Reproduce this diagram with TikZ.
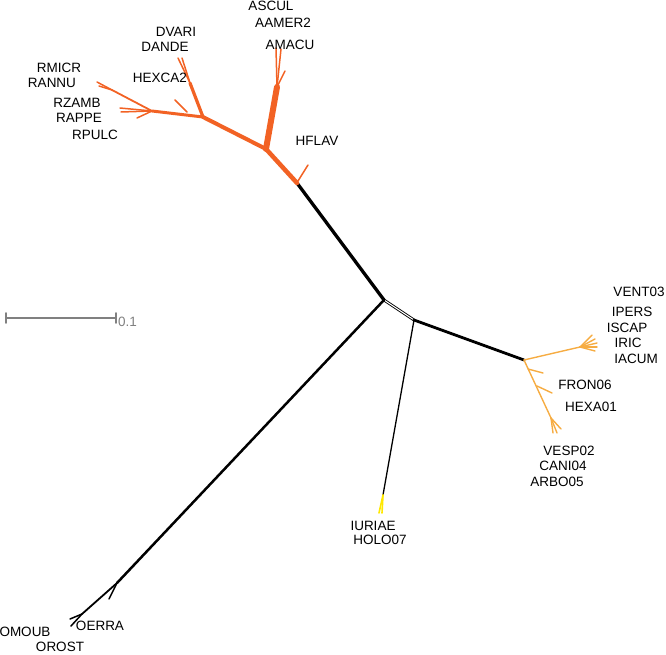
\documentclass[tikz,border=0pt]{standalone}
\usepackage{fontspec}
\setmainfont{Liberation Sans}
\definecolor{tred}{RGB}{242,98,36}
\definecolor{tora}{RGB}{246,172,66}
\definecolor{tyel}{RGB}{255,232,0}
\definecolor{tgray}{RGB}{128,128,128}
\begin{document}
\begin{tikzpicture}[x=1pt,y=-1pt,line cap=round,line join=round,
  lab/.style={font=\fontsize{13.5}{14}\selectfont,inner sep=0pt},
  blk/.style={draw=black},
  red/.style={draw=tred},
  ora/.style={draw=tora,line width=1.4pt},
  yel/.style={draw=tyel,line width=1.6pt},
  tip/.style={line width=1.5pt}]
\useasboundingbox (0,0) rectangle (666,655);
% junctions
\coordinate (C1) at (384,300);
\coordinate (C2) at (414,320);
\coordinate (O0) at (297,183);
\coordinate (O1) at (266,149);
\coordinate (NA) at (277,87);
\coordinate (O2) at (203,117);
\coordinate (ND) at (190,83);
\coordinate (HX) at (187,112);
\coordinate (RA) at (152,111);
\coordinate (RM) at (112,90);
\coordinate (OE) at (117,583);
\coordinate (OF) at (82,614);
\coordinate (Y0) at (524,360);
\coordinate (F) at (580,347);
\coordinate (P1) at (528,369);
\coordinate (P2) at (537,386);
\coordinate (P3) at (551,418);
\coordinate (YT) at (383,495);
\coordinate (HF) at (298,181);
% tips
\coordinate (tASCUL) at (276,48);
\coordinate (tAAMER) at (281,49);
\coordinate (tAMACU) at (285,71);
\coordinate (tDVARI) at (178,58);
\coordinate (tDANDE) at (182,58);
\coordinate (tHEXCA) at (175,100);
\coordinate (tRMICR) at (97,82);
\coordinate (tRANNU) at (99,86);
\coordinate (tRZAMB) at (120,108);
\coordinate (tRAPPE) at (121,112);
\coordinate (tRPULC) at (137,118);
\coordinate (tHFLAV) at (308,165);
\coordinate (tVENT) at (592,335);
\coordinate (tIPERS) at (595,339);
\coordinate (tISCAP) at (597,343);
\coordinate (tIRIC) at (597,347);
\coordinate (tIACUM) at (595,351);
\coordinate (tFRON) at (543,373);
\coordinate (tHEXA) at (552,393);
\coordinate (tVESP) at (553,433);
\coordinate (tCANI) at (557,433);
\coordinate (tARBO) at (561,429);
\coordinate (tIURI) at (379,513);
\coordinate (tHOLO) at (382,513);
\coordinate (tOERRA) at (109,599);
\coordinate (tOMOUB) at (70,619);
\coordinate (tOROST) at (71,626);
% black backbone
\draw[blk,line width=3.3pt] (C1) -- (O0);
\draw[double=white,double distance=1.1pt,line width=0.9pt] (C1) -- (C2);
\draw[blk,line width=2.8pt] (C2) -- (Y0);
\draw[blk,line width=1.3pt] (C2) -- (YT);
\draw[blk,line width=2.5pt] (C1) -- (OE);
\draw[blk,line width=1.8pt] (OE) -- (OF);
\draw[blk,tip] (OE) -- (tOERRA);
\draw[blk,tip] (OF) -- (tOMOUB);
\draw[blk,tip] (OF) -- (tOROST);
% red clade
\draw[red,line width=4.5pt] (O0) -- (O1);
\draw[red,line width=6pt] (O1) -- (NA);
\draw[red,tip] (NA) -- (tASCUL);
\draw[red,tip] (NA) -- (tAAMER);
\draw[red,tip] (NA) -- (tAMACU);
\draw[red,tip] (HF) -- (tHFLAV);
\draw[red,line width=4pt] (O1) -- (O2);
\draw[red,line width=3.2pt] (O2) -- (ND);
\draw[red,tip] (ND) -- (tDVARI);
\draw[red,tip] (ND) -- (tDANDE);
\draw[red,line width=3pt] (O2) -- (RA);
\draw[red,tip] (HX) -- (tHEXCA);
\draw[red,line width=1.8pt] (RA) -- (RM);
\draw[red,tip] (RM) -- (tRMICR);
\draw[red,tip] (RM) -- (tRANNU);
\draw[red,tip] (RA) -- (tRZAMB);
\draw[red,tip] (RA) -- (tRAPPE);
\draw[red,tip] (RA) -- (tRPULC);
% orange clade
\draw[ora] (Y0) -- (F);
\foreach \t in {tVENT,tIPERS,tISCAP,tIRIC,tIACUM} \draw[ora] (F) -- (\t);
\draw[ora] (Y0) -- (P3);
\draw[ora] (P1) -- (tFRON);
\draw[ora] (P2) -- (tHEXA);
\foreach \t in {tVESP,tCANI,tARBO} \draw[ora] (P3) -- (\t);
% yellow
\draw[yel] (YT) -- (tIURI);
\draw[yel] (YT) -- (tHOLO);
% labels
\node[lab] (ASCUL) at (271,6) {ASCUL};
\node[lab] (AAMER2) at (283,23) {AAMER2};
\node[lab] (AMACU) at (290,45) {AMACU};
\node[lab] (DVARI) at (176,32) {DVARI};
\node[lab] (DANDE) at (165,47) {DANDE};
\node[lab] (HEXCA2) at (160,78) {HEXCA2};
\node[lab] (RMICR) at (59,68) {RMICR};
\node[lab] (RANNU) at (52,83) {RANNU};
\node[lab] (RZAMB) at (77,103) {RZAMB};
\node[lab] (RAPPE) at (79,118) {RAPPE};
\node[lab] (RPULC) at (95,135) {RPULC};
\node[lab] (HFLAV) at (317,141) {HFLAV};
\node[lab] (VENT03) at (639,292) {VENT03};
\node[lab] (IPERS) at (632,312) {IPERS};
\node[lab] (ISCAP) at (627,328) {ISCAP};
\node[lab] (IRIC) at (628,343) {IRIC};
\node[lab] (IACUM) at (636,359) {IACUM};
\node[lab] (FRON06) at (585,385) {FRON06};
\node[lab] (HEXA01) at (591,407) {HEXA01};
\node[lab] (VESP02) at (569,451) {VESP02};
\node[lab] (CANI04) at (563,466) {CANI04};
\node[lab] (ARBO05) at (557,482) {ARBO05};
\node[lab] (IURIAE) at (373,526) {IURIAE};
\node[lab] (HOLO07) at (380,540) {HOLO07};
\node[lab] (OMOUB) at (25,632) {OMOUB};
\node[lab] (OERRA) at (100,626) {OERRA};
\node[lab] (OROST) at (60,647) {OROST};
% scale bar
\coordinate (SB1) at (6,318);
\coordinate (SB2) at (116,318);
\draw[tgray,line width=2pt] (SB1) -- (SB2);
\draw[tgray,line width=1.8pt] ([yshift=-5pt]SB1) -- ([yshift=5pt]SB1);
\draw[tgray,line width=1.8pt] ([yshift=-5pt]SB2) -- ([yshift=5pt]SB2);
\node[lab,text=tgray,anchor=west] (SBL) at (118,322) {0.1};
\end{tikzpicture}
\end{document}
